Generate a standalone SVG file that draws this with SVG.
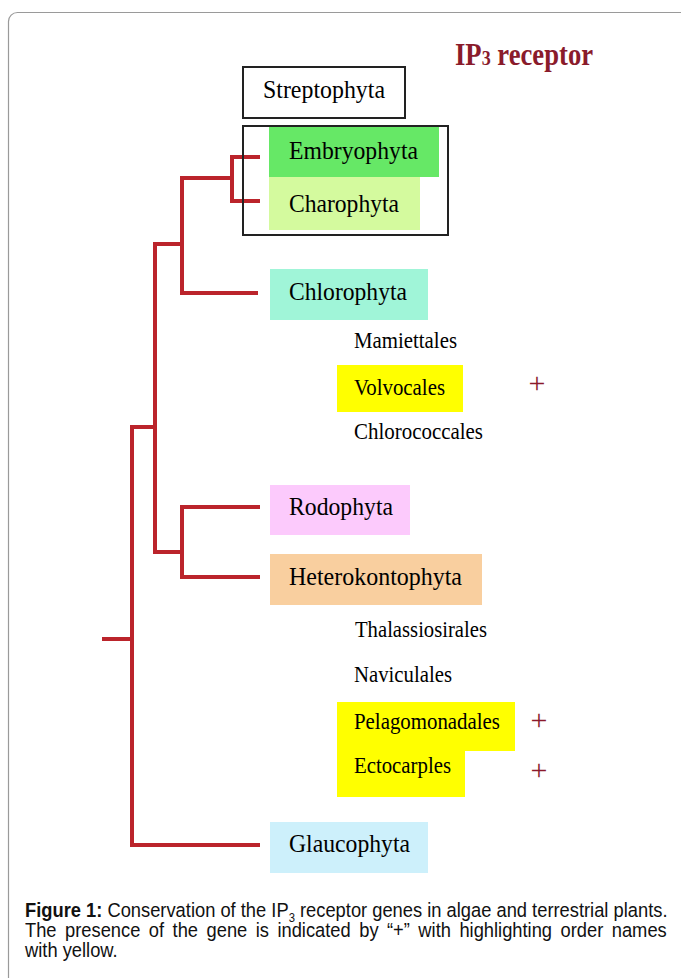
<svg xmlns="http://www.w3.org/2000/svg" width="681" height="978" viewBox="0 0 681 978">
<style>
.lbl{font-family:"Liberation Serif","Times New Roman",serif;fill:#000;}
.ph{font-size:26px;}
.ord{font-size:23px;}
.plus{font-family:"Liberation Serif","Times New Roman",serif;font-size:30px;fill:#8b1a2b;text-anchor:middle;}
.cap{font-family:"Liberation Sans",Arial,sans-serif;font-size:19.5px;fill:#111;}
.tree{fill:none;stroke:#bb242b;stroke-width:4;stroke-linejoin:miter;stroke-linecap:butt;}
.box{fill:none;stroke:#222;stroke-width:2;}
</style>
<rect width="681" height="978" fill="#fff"/>
<rect x="8.5" y="12.5" width="700" height="1000" rx="9" fill="none" stroke="#9a9a9a" stroke-width="1.2"/>

<g id="title">
<text transform="translate(455,65) scale(0.86,1)" x="0" y="0" font-family="Liberation Serif,'Times New Roman',serif" font-weight="bold" font-size="31" fill="#8a1b2b">IP<tspan font-size="21">3</tspan> receptor</text>
</g>

<g id="connectors">
<path class="tree" d="M260 157 H232 V201 H260"/>
<path class="tree" d="M232 178 H182 V293 H258"/>
<path class="tree" d="M182 244 H155 V552 H182"/>
<path class="tree" d="M260 507 H182 V577 H260"/>
<path class="tree" d="M155 427 H132 V845 H260"/>
<path class="tree" d="M102 639 H132"/>
</g>

<g id="streptophyta">
<rect class="box" x="243" y="67" width="162" height="51"/>
<text class="lbl ph" x="263" y="98" textLength="122" lengthAdjust="spacingAndGlyphs">Streptophyta</text>
</g>

<g id="streptophyta-group">
<rect class="box" x="243" y="126" width="205" height="109"/>
</g>

<g id="embryophyta">
<rect x="269" y="127" width="170" height="50" fill="#66e866"/>
<text class="lbl ph" x="289" y="159" textLength="129" lengthAdjust="spacingAndGlyphs">Embryophyta</text>
</g>

<g id="charophyta">
<rect x="269" y="177" width="151" height="53" fill="#d4fa9e"/>
<text class="lbl ph" x="289" y="212" textLength="110" lengthAdjust="spacingAndGlyphs">Charophyta</text>
</g>

<g id="chlorophyta">
<rect x="270" y="269" width="158" height="51" fill="#a0f5d8"/>
<text class="lbl ph" x="289" y="300" textLength="118" lengthAdjust="spacingAndGlyphs">Chlorophyta</text>
</g>

<g id="mamiettales">
<text class="lbl ord" x="354" y="348" textLength="103" lengthAdjust="spacingAndGlyphs">Mamiettales</text>
</g>

<g id="volvocales">
<rect x="337" y="365" width="126" height="47" fill="#ffff00"/>
<text class="lbl ord" x="354" y="395" textLength="91" lengthAdjust="spacingAndGlyphs">Volvocales</text>
<text class="plus" x="537" y="393">+</text>
</g>

<g id="chlorococcales">
<text class="lbl ord" x="354" y="439" textLength="129" lengthAdjust="spacingAndGlyphs">Chlorococcales</text>
</g>

<g id="rodophyta">
<rect x="270" y="485" width="140" height="50" fill="#fccafc"/>
<text class="lbl ph" x="289" y="515" textLength="104" lengthAdjust="spacingAndGlyphs">Rodophyta</text>
</g>

<g id="heterokontophyta">
<rect x="270" y="554" width="212" height="51" fill="#f9cf9f"/>
<text class="lbl ph" x="289" y="585" textLength="173" lengthAdjust="spacingAndGlyphs">Heterokontophyta</text>
</g>

<g id="thalassiosirales">
<text class="lbl ord" x="355" y="637" textLength="132" lengthAdjust="spacingAndGlyphs">Thalassiosirales</text>
</g>

<g id="naviculales">
<text class="lbl ord" x="354" y="682" textLength="98" lengthAdjust="spacingAndGlyphs">Naviculales</text>
</g>

<g id="pelagomonadales">
<rect x="337" y="702" width="178" height="49" fill="#ffff00"/>
<text class="lbl ord" x="354" y="729" textLength="146" lengthAdjust="spacingAndGlyphs">Pelagomonadales</text>
<text class="plus" x="539" y="730">+</text>
</g>

<g id="ectocarples">
<rect x="337" y="750" width="128" height="47" fill="#ffff00"/>
<text class="lbl ord" x="354" y="773" textLength="97" lengthAdjust="spacingAndGlyphs">Ectocarples</text>
<text class="plus" x="539" y="780">+</text>
</g>

<g id="glaucophyta">
<rect x="270" y="822" width="158" height="51" fill="#cdf0fb"/>
<text class="lbl ph" x="289" y="852" textLength="121" lengthAdjust="spacingAndGlyphs">Glaucophyta</text>
</g>

<g id="caption" transform="translate(25,0) scale(0.94,1)">
<text class="cap" x="0" y="917"><tspan font-weight="bold">Figure 1:</tspan> Conservation of the IP<tspan font-size="12" dy="5">3</tspan><tspan dy="-5"> receptor genes in algae and terrestrial plants.</tspan></text>
<text class="cap" x="0" y="937" word-spacing="3.6">The presence of the gene is indicated by “+” with highlighting order names</text>
<text class="cap" x="0" y="957">with yellow.</text>
</g>
</svg>
